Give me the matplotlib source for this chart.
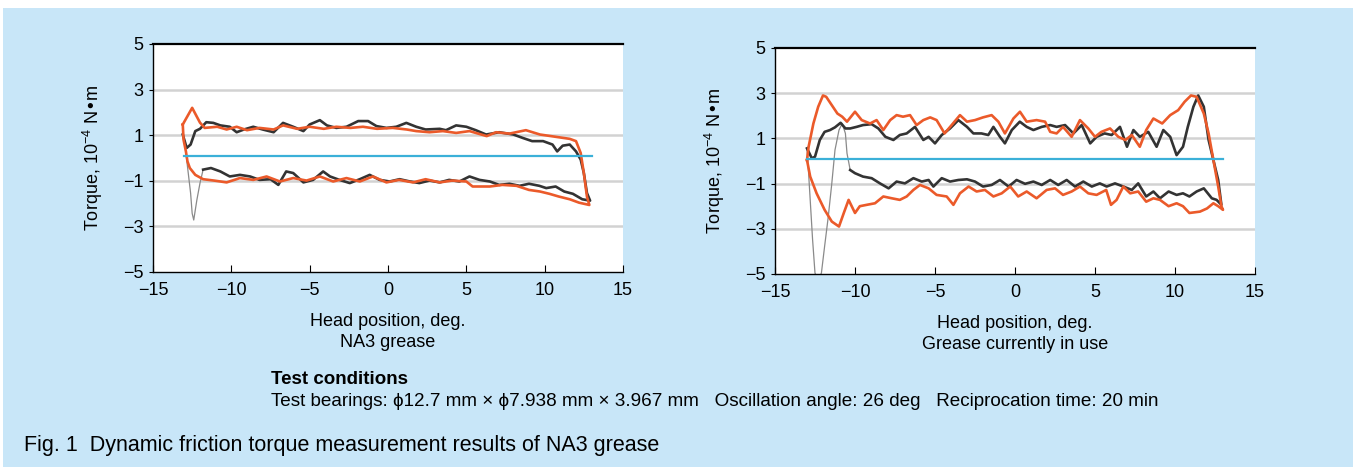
import matplotlib as mpl
import matplotlib.pyplot as plt
from matplotlib.patches import Rectangle

# ---- data (head position deg, torque 1e-4 N*m) ----
X_TICKS = [-15, -10, -5, 0, 5, 10, 15]
Y_TICKS = [5, 3, 1, -1, -3, -5]
Y_TICK_LABELS = ["5", "3", "1", "\u22121", "\u22123", "\u22125"]
X_TICK_LABELS = ["\u221215", "\u221210", "\u22125", "0", "5", "10", "15"]

ZERO_X = [-13.0, 13.0]
ZERO_Y = [0.07, 0.07]

# NA3 grease - orange loop (forward upper, return lower)
NA3_ORANGE_X = [-13.1, -12.5, -12.0, -11.7, -10.9, -10.3, -9.66, -9.0, -8.2, -7.3,
                -6.7, -5.8, -5.0, -4.1, -3.3, -2.4, -1.6, -0.7, 0.3, 1.2,
                1.8, 2.65, 3.5, 4.35, 5.2, 6.3, 6.9, 7.75, 8.8, 9.7,
                10.7, 11.6, 12.0, 12.3, 12.5, 12.7, 12.85,
                12.2, 11.6, 10.9, 10.3, 9.7, 9.0, 8.2, 7.3, 6.5,
                5.4, 5.0, 4.1, 3.3, 2.4, 1.6, 0.7, -0.1, -0.96, -1.8,
                -2.65, -3.5, -4.35, -5.2, -6.05, -6.9, -7.75, -8.6, -9.45, -10.3,
                -11.1, -11.8, -12.3, -12.65, -12.8, -12.9, -13.05, -13.1]
NA3_ORANGE_Y = [1.47, 2.2, 1.55, 1.32, 1.37, 1.25, 1.37, 1.22, 1.32, 1.25,
                1.43, 1.28, 1.37, 1.28, 1.37, 1.32, 1.37, 1.28, 1.32, 1.25,
                1.18, 1.13, 1.18, 1.10, 1.18, 0.96, 1.13, 1.07, 1.22, 1.03,
                0.93, 0.84, 0.74, 0.22, -0.66, -1.7, -2.06,
                -1.96, -1.81, -1.69, -1.57, -1.47, -1.40, -1.22, -1.18, -1.25,
                -1.25, -1.03, -0.99, -1.07, -0.93, -1.07, -0.96, -1.07, -0.81, -1.03,
                -0.88, -1.03, -0.81, -0.99, -0.88, -1.03, -0.81, -0.96, -0.88, -1.07,
                -0.99, -0.93, -0.74, -0.44, -0.15, 0.29, 0.8, 1.47]

# NA3 grease - black loop
NA3_BLACK_X = [-13.1, -12.85, -12.6, -12.3, -12.0, -11.6, -11.15, -10.7, -10.1, -9.66,
               -9.2, -8.6, -8.0, -7.3, -6.7, -6.05, -5.4, -5.0, -4.35, -3.9,
               -3.3, -2.65, -1.9, -1.27, -0.74, -0.1, 0.53, 1.17, 1.8, 2.4,
               3.3, 3.7, 4.35, 5.0, 5.6, 6.26, 7.1, 8.0, 8.6, 9.2,
               9.9, 10.5, 10.8, 11.15, 11.6, 12.0, 12.3, 12.5, 12.7, 12.9,
               12.4, 11.8, 11.25, 10.7, 10.1, 9.66, 9.0, 8.4, 7.75, 7.1,
               6.5, 5.84, 5.2, 4.56, 3.9, 3.3, 2.65, 2.0, 1.4, 0.74,
               0.1, -0.53, -1.17, -1.8, -2.44, -3.1, -3.7, -4.14, -4.78, -5.4,
               -6.05, -6.5, -7.0, -7.5, -8.2, -8.8, -9.45, -10.1, -10.7, -11.3, -11.8]
NA3_BLACK_Y = [1.03, 0.44, 0.59, 1.18, 1.28, 1.57, 1.54, 1.43, 1.37, 1.13,
               1.25, 1.37, 1.25, 1.13, 1.54, 1.37, 1.18, 1.47, 1.66, 1.43,
               1.32, 1.37, 1.62, 1.62, 1.40, 1.32, 1.37, 1.54, 1.37, 1.25,
               1.28, 1.22, 1.43, 1.37, 1.22, 1.03, 1.13, 1.03, 0.88, 0.74,
               0.74, 0.59, 0.29, 0.54, 0.59, 0.29, -0.07, -0.66, -1.54, -1.87,
               -1.81, -1.57, -1.47, -1.25, -1.32, -1.22, -1.13, -1.22, -1.13, -1.18,
               -1.03, -0.96, -0.81, -1.03, -0.96, -1.07, -0.99, -1.10, -1.03, -0.93,
               -1.03, -0.96, -0.74, -0.93, -1.10, -0.96, -0.81, -0.59, -0.96, -1.07,
               -0.66, -0.59, -1.18, -0.93, -0.96, -0.81, -0.74, -0.81, -0.59, -0.44, -0.51]
# fast transition at the reversal point, drawn thin
NA3_DIP_X = [-11.8, -12.0, -12.2, -12.4, -12.5, -12.6, -12.8, -12.95, -13.1]
NA3_DIP_Y = [-0.51, -1.1, -1.84, -2.72, -2.43, -1.54, -0.37, 0.51, 1.03]

# Grease currently in use - orange loop
CUR_ORANGE_X = [-13.0, -12.9, -12.6, -12.3, -12.0, -11.8, -11.45, -11.1, -10.8, -10.5,
                -10.0, -9.58, -9.06, -8.65, -8.23, -7.8, -7.4, -7.0, -6.56, -6.15,
                -5.73, -5.3, -4.9, -4.4, -3.96, -3.44, -3.0, -2.5, -2.0, -1.46,
                -1.04, -0.63, -0.1, 0.31, 0.73, 1.35, 1.88, 2.2, 2.6, 3.0,
                3.54, 4.06, 4.58, 5.0, 5.4, 5.94, 6.46, 6.9, 7.3, 7.8,
                8.2, 8.65, 9.2, 9.7, 10.2, 10.6, 11.0, 11.35, 11.8, 12.1,
                12.4, 12.7, 12.9, 13.0,
                12.7, 12.4, 12.0, 11.56, 10.9, 10.5, 10.1, 9.6, 9.06, 8.65,
                8.2, 7.7, 7.2, 6.77, 6.35, 6.0, 5.7, 5.1, 4.58, 4.06,
                3.54, 3.0, 2.5, 1.98, 1.35, 0.73, 0.2, -0.3, -0.83, -1.35,
                -1.88, -2.4, -2.9, -3.44, -3.85, -4.27, -4.9, -5.4, -5.94, -6.35,
                -6.77, -7.2, -7.7, -8.23, -8.75, -9.27, -9.7, -10.0, -10.4, -10.7,
                -11.0, -11.45, -11.9, -12.4, -12.8, -13.0]
CUR_ORANGE_Y = [0.04, 0.63, 1.66, 2.4, 2.9, 2.84, 2.47, 2.1, 1.96, 1.74,
                2.18, 1.81, 1.66, 1.81, 1.37, 1.81, 2.03, 1.96, 2.03, 1.59,
                1.81, 1.93, 1.81, 1.22, 1.59, 2.03, 1.74, 1.81, 1.93, 2.03,
                1.74, 1.22, 1.88, 2.18, 1.74, 1.81, 1.74, 1.29, 1.22, 1.51,
                1.07, 1.81, 1.44, 1.07, 1.29, 1.44, 1.07, 0.93, 1.15, 0.63,
                1.37, 1.88, 1.66, 2.03, 2.25, 2.62, 2.9, 2.84, 2.1, 1.22,
                0.04, -1.13, -2.0, -2.16,
                -2.0, -1.87, -2.1, -2.24, -2.3, -2.0, -1.87, -2.0, -1.72, -1.65,
                -1.8, -1.35, -1.43, -1.13, -1.72, -1.94, -1.28, -1.5, -1.43, -1.13,
                -1.35, -1.5, -1.21, -1.28, -1.65, -1.35, -1.57, -1.13, -1.43, -1.57,
                -1.28, -1.35, -1.13, -1.43, -1.94, -1.57, -1.5, -1.21, -1.06, -1.28,
                -1.57, -1.72, -1.65, -1.57, -1.87, -1.94, -2.0, -2.3, -1.72, -2.3,
                -2.9, -2.68, -2.16, -1.43, -0.69, 0.04]

# Grease currently in use - black loop
CUR_BLACK_X = [-13.0, -12.7, -12.5, -12.2, -11.9, -11.56, -11.25, -10.9, -10.6, -10.3,
               -9.9, -9.5, -8.96, -8.54, -8.1, -7.6, -7.2, -6.77, -6.25, -5.73,
               -5.4, -5.0, -4.58, -4.06, -3.54, -3.0, -2.6, -2.1, -1.67, -1.35,
               -0.94, -0.63, -0.2, 0.3, 0.73, 1.15, 1.67, 2.2, 2.6, 3.13,
               3.65, 4.17, 4.7, 5.1, 5.6, 6.04, 6.56, 7.0, 7.4, 7.8,
               8.33, 8.85, 9.27, 9.7, 10.1, 10.5, 10.8, 11.15, 11.45, 11.8,
               12.1, 12.4, 12.7, 12.9,
               12.6, 12.3, 11.8, 11.35, 10.9, 10.5, 10.1, 9.6, 9.06, 8.65,
               8.2, 7.7, 7.3, 6.77, 6.25, 5.73, 5.3, 4.8, 4.27, 3.75,
               3.23, 2.7, 2.2, 1.67, 1.15, 0.63, 0.1, -0.4, -0.94, -1.46,
               -2.0, -2.5, -3.0, -3.54, -4.06, -4.58, -5.1, -5.4, -5.83, -6.35,
               -6.88, -7.4, -7.9, -8.44, -8.96, -9.5, -10.0, -10.3]
CUR_BLACK_Y = [0.56, 0.12, 0.19, 0.93, 1.29, 1.37, 1.49, 1.69, 1.44, 1.44,
               1.51, 1.59, 1.63, 1.44, 1.07, 0.93, 1.15, 1.22, 1.51, 0.93,
               1.07, 0.78, 1.15, 1.44, 1.81, 1.51, 1.22, 1.22, 1.15, 1.51,
               1.07, 0.78, 1.37, 1.74, 1.51, 1.37, 1.51, 1.59, 1.51, 1.59,
               1.22, 1.59, 0.78, 1.07, 1.22, 1.15, 1.51, 0.63, 1.37, 1.07,
               1.29, 0.63, 1.37, 1.07, 0.26, 0.63, 1.51, 2.4, 2.9, 2.4,
               0.93, 0.04, -0.84, -1.94,
               -1.72, -1.65, -1.21, -1.35, -1.57, -1.43, -1.5, -1.35, -1.65, -1.35,
               -1.57, -0.99, -1.28, -1.13, -0.99, -1.13, -0.99, -1.13, -0.91, -1.13,
               -0.84, -1.06, -0.84, -1.06, -0.91, -1.01, -0.84, -1.13, -0.84, -1.06,
               -1.13, -0.91, -0.81, -0.84, -0.91, -0.76, -1.13, -0.84, -0.91, -0.76,
               -0.99, -0.91, -1.21, -0.99, -0.76, -0.69, -0.54, -0.4]
CUR_DIP_X = [-10.3, -10.5, -10.6, -10.8, -11.0, -11.25, -11.45, -11.67, -11.9, -12.1,
             -12.3, -12.5, -12.65, -12.8, -12.9, -13.0]
CUR_DIP_Y = [-0.4, 0.34, 1.22, 1.66, 1.37, 0.49, -0.99, -2.46, -3.78, -4.96,
             -5.25, -4.96, -3.49, -1.72, -0.54, 0.56]

PANELS = [
    ("NA3 grease", NA3_ORANGE_X, NA3_ORANGE_Y, NA3_BLACK_X, NA3_BLACK_Y, NA3_DIP_X, NA3_DIP_Y),
    ("Grease currently in use", CUR_ORANGE_X, CUR_ORANGE_Y, CUR_BLACK_X, CUR_BLACK_Y, CUR_DIP_X, CUR_DIP_Y),
]

BG = "#c8e6f8"
ORANGE = "#eb5a2a"
BLACK = "#333333"
BLUE = "#3bb0d8"
GRID = "#d2d2d2"

mpl.rcParams.update({
    "font.family": ["Liberation Sans", "DejaVu Sans"],
    "font.size": 13,
    "mathtext.default": "regular",
})

W, H = 1358, 467
fig = plt.figure(figsize=(W / 100, H / 100), dpi=100)
fig.patch.set_facecolor("white")
fig.patches.append(Rectangle((3 / W, 0), 1350 / W, (H - 8) / H, transform=fig.transFigure,
                             fc=BG, ec="none", zorder=-10))

# axes boxes in pixels: left, top, right, bottom
boxes = [(153, 44, 623, 272), (775, 48, 1255, 274)]

for (l, t, r, b), (name, ox, oy, bx, by, dx, dy) in zip(boxes, PANELS):
    ax = fig.add_axes([l / W, (H - b) / H, (r - l) / W, (b - t) / H])
    ax.set_facecolor("white")
    ax.set_xlim(-15, 15)
    ax.set_ylim(-5, 5)
    for gy in [3, 1, -1, -3]:
        ax.axhline(gy, color=GRID, lw=1.8, zorder=1)
    ax.plot(dx, dy, color="#8a8a8a", lw=0.9, zorder=2)
    ax.plot(bx, by, color=BLACK, lw=1.9, zorder=3)
    ax.plot(ox, oy, color=ORANGE, lw=1.9, zorder=4)
    ax.plot(ZERO_X, ZERO_Y, color=BLUE, lw=1.6, zorder=5)

    ax.spines["right"].set_visible(False)
    ax.spines["top"].set_linewidth(1.6)
    ax.spines["left"].set_linewidth(1.0)
    ax.spines["bottom"].set_linewidth(1.0)
    ax.set_xticks(X_TICKS)
    ax.set_xticklabels(X_TICK_LABELS)
    ax.set_yticks(Y_TICKS)
    ax.set_yticklabels(Y_TICK_LABELS)
    ax.tick_params(axis="x", direction="in", length=5, width=0.8, pad=7.5)
    ax.tick_params(axis="y", direction="out", length=3, width=0.8, pad=4)
    ax.set_ylabel("Torque, 10$^{-4}$ N\u2022m", labelpad=13)
    ax.set_xlabel("Head position, deg.\n" + name, labelpad=10, linespacing=1.3)

fig.text(271 / W, 1 - 380 / H, "Test conditions", fontweight="bold", va="center", ha="left",
         fontsize=13.5)
fig.text(271 / W, 1 - 401 / H,
         "Test bearings: \u03d512.7 mm \u00d7 \u03d57.938 mm \u00d7 3.967 mm   "
         "Oscillation angle: 26 deg   Reciprocation time: 20 min",
         va="center", ha="left", fontsize=13.6)
fig.text(24 / W, 1 - 446 / H, "Fig. 1  Dynamic friction torque measurement results of NA3 grease",
         va="center", ha="left", fontsize=15.5)

fig.savefig("out.png", dpi=100, facecolor=fig.get_facecolor())
